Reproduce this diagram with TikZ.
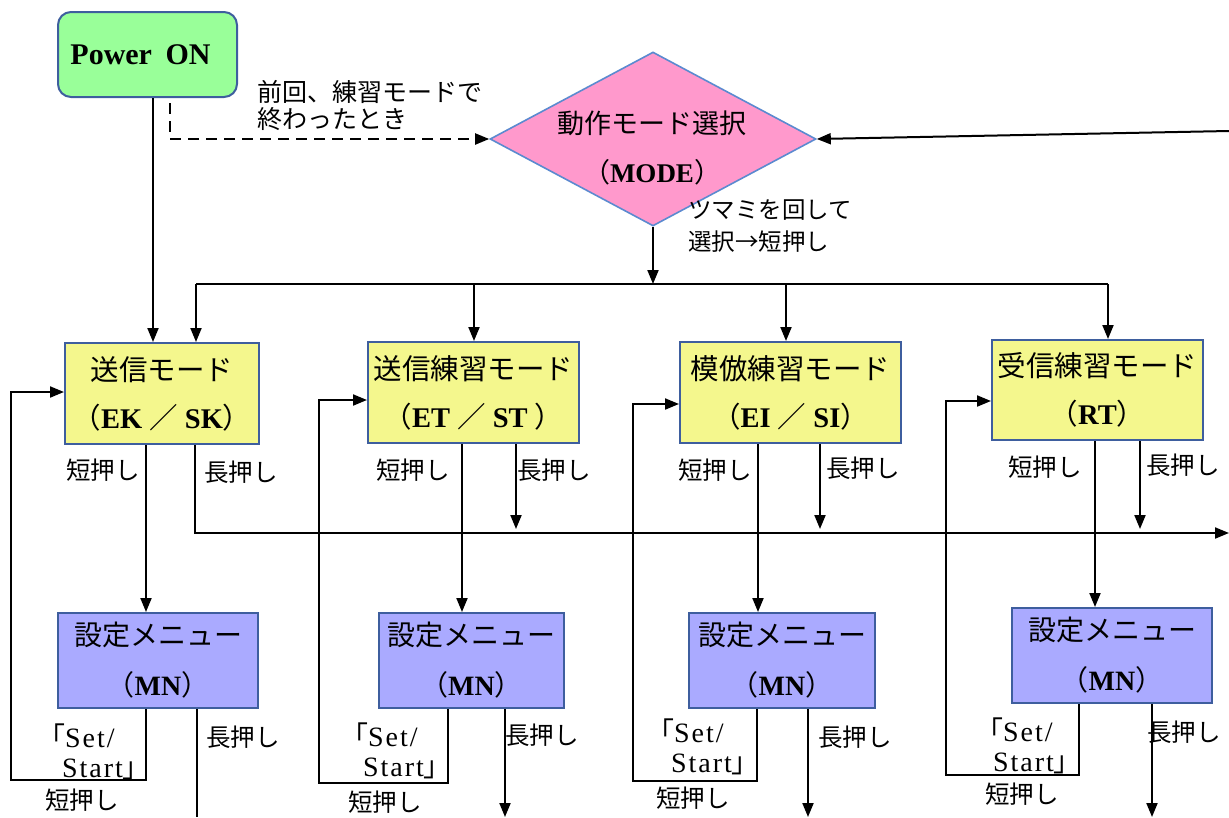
\documentclass[tikz,border=0pt]{standalone}
\usepackage{fontspec}
\setmainfont{Liberation Serif}
\newfontfamily\jp{Noto Sans CJK JP}
\newfontfamily\widerm[LetterSpace=7]{Liberation Serif}
\usetikzlibrary{shapes.geometric,arrows.meta}
\definecolor{greenfill}{HTML}{99FF99}
\definecolor{pinkfill}{HTML}{FF99CC}
\definecolor{yellowfill}{HTML}{F4F78D}
\definecolor{lavfill}{HTML}{AAAAFF}
\definecolor{bordblue}{HTML}{3E5E9E}
\definecolor{diablue}{HTML}{5B8AD0}
\tikzset{
 conn/.style={line width=2pt, draw=black},
 arr/.style={conn, -{Triangle[length=14pt,width=11pt]}},
 startbox/.style={draw=bordblue, line width=2pt, fill=greenfill, rounded corners=13pt, minimum width=179, minimum height=85, inner sep=0pt, font=\fontsize{30}{34}\selectfont\bfseries},
 decision/.style={diamond, draw=diablue, line width=1.6pt, fill=pinkfill, minimum width=326, minimum height=174, inner sep=0pt},
 modebox/.style={draw=bordblue, line width=2pt, fill=yellowfill, minimum height=101, inner sep=0pt, align=center, font=\fontsize{28.5}{48}\selectfont},
 menubox/.style={draw=bordblue, line width=2pt, fill=lavfill, minimum height=95, inner sep=0pt, align=center, font=\fontsize{28}{50}\selectfont},
 lab/.style={inner sep=0pt, font=\jp\fontsize{24.5}{28}\selectfont},
 notelab/.style={inner sep=0pt, anchor=west, align=left},
 setlab/.style={inner sep=0pt, align=left, anchor=west, font=\widerm\fontsize{28}{30}\selectfont},
}
\begin{document}
\begin{tikzpicture}[x=1pt,y=-1pt]
\useasboundingbox (0,0) rectangle (1229,817);
% nodes
\node[startbox] (pwr) at (147.5,54.5) {\hspace*{-14pt}Power\hspace{0.45em}ON};
\node[decision] (mode) at (653,139) {};
\node[inner sep=0pt, align=center, font=\fontsize{27}{49}\selectfont] (modetxt) at (652,148) {{\jp 動作モード選択}\\{\jp （}\textbf{MODE}{\jp ）}};

\node[modebox, minimum width=194] (m1) at (162,393.5) {{\jp 送信モード}\\{\jp （}\textbf{EK} {\jp ／} \textbf{SK}{\jp ）}};
\node[modebox, minimum width=211] (m2) at (473.5,392.5) {{\jp 送信練習モード}\\{\jp （}\textbf{ET} {\jp ／} \textbf{ST} {\jp ）}};
\node[modebox, minimum width=221] (m3) at (790.5,392.5) {{\jp 模倣練習モード}\\{\jp （}\textbf{EI} {\jp ／} \textbf{SI}{\jp ）}};
\node[modebox, minimum width=211, minimum height=100] (m4) at (1097.5,390) {{\jp 受信練習モード}\\{\jp （}\textbf{RT}{\jp ）}};

\node[menubox, minimum width=200] (n1) at (158,660.5) {{\jp 設定メニュー}\\{\jp （}\textbf{MN}{\jp ）}};
\node[menubox, minimum width=185] (n2) at (471.5,660.5) {{\jp 設定メニュー}\\{\jp （}\textbf{MN}{\jp ）}};
\node[menubox, minimum width=186] (n3) at (782,660.5) {{\jp 設定メニュー}\\{\jp （}\textbf{MN}{\jp ）}};
\node[menubox, minimum width=200] (n4) at (1112,655.5) {{\jp 設定メニュー}\\{\jp （}\textbf{MN}{\jp ）}};

% labels
\node[notelab, font=\jp\fontsize{25}{27}\selectfont] (lprev) at (257,105) {前回、練習モードで\\終わったとき};
\node[notelab, font=\jp\fontsize{23.5}{32}\selectfont] (lknob) at (688,226) {ツマミを回して\\選択→短押し};

\node[lab] (s1) at (103,470) {短押し};
\node[lab] (s2) at (413,470) {短押し};
\node[lab] (s3) at (715,470) {短押し};
\node[lab] (s4) at (1045,467) {短押し};
\node[lab] (g1) at (241,472) {長押し};
\node[lab] (g2) at (554,470) {長押し};
\node[lab] (g3) at (863,468) {長押し};
\node[lab] (g4) at (1183,465) {長押し};

\node[setlab] (st1) at (37,752) {{\jp 「}Set/\\\hspace*{25pt}Start{\jp 」}};
\node[setlab] (st2) at (340,751) {{\jp 「}Set/\\\hspace*{23pt}Start{\jp 」}};
\node[setlab] (st3) at (646,747) {{\jp 「}Set/\\\hspace*{25pt}Start{\jp 」}};
\node[setlab] (st4) at (975,746) {{\jp 「}Set/\\\hspace*{18pt}Start{\jp 」}};
\node[lab] (ss1) at (82,800) {短押し};
\node[lab] (ss2) at (385,802) {短押し};
\node[lab] (ss3) at (693,798) {短押し};
\node[lab] (ss4) at (1022,794) {短押し};
\node[lab] (gg1) at (243,737) {長押し};
\node[lab] (gg2) at (542,735) {長押し};
\node[lab] (gg3) at (855,737) {長押し};
\node[lab, anchor=west] (gg4) at (1147,732) {長押し};

% coordinates
\coordinate (fromright) at (1229,131);
\coordinate (busL) at (196,284);
\coordinate (bus2) at (474,284);
\coordinate (bus3) at (786,284);
\coordinate (busR) at (1108,284);
\coordinate (lpR) at (1229,533);
\coordinate (lp2) at (516,533);
\coordinate (lp3) at (820,533);
\coordinate (lp4) at (1140,533);

% connectors
\draw[arr] (pwr.south -| 153,0) -- (m1.north -| 153,0);
\draw[arr, dash pattern=on 11pt off 7pt] (pwr.south -| 170,0) ++(0,5) |- (mode.west);
\draw[arr] (fromright) -- (mode.east);
\draw[arr] (mode.south) -- (mode.south |- busL);
\draw[conn] (busL) -- (busR);
\draw[arr] (busL) -- (busL |- m1.north);
\draw[arr] (bus2) -- (bus2 |- m2.north);
\draw[arr] (bus3) -- (bus3 |- m3.north);
\draw[arr] (busR) -- (busR |- m4.north);

% short press: mode -> menu
\draw[arr] (m1.south -| 146,0) -- (n1.north -| 146,0);
\draw[arr] (m2.south -| 462,0) -- (n2.north -| 462,0);
\draw[arr] (m3.south -| 758,0) -- (n3.north -| 758,0);
\draw[arr] (m4.south -| 1095,0) -- (n4.north -| 1095,0);

% long press: mode -> bus
\draw[arr] (m1.south -| 195,0) |- (lpR);
\draw[arr, shorten >=4pt] (m2.south -| lp2) -- (lp2);
\draw[arr, shorten >=4pt] (m3.south -| lp3) -- (lp3);
\draw[arr, shorten >=4pt] (m4.south -| lp4) -- (lp4);

% Set/Start loops: menu -> mode
\draw[arr] (n1.south -| 146,0) |- (11,780) |- (m1.west |- 0,392);
\draw[arr] (n2.south -| 448,0) |- (319,783) |- (m2.west |- 0,400);
\draw[arr] (n3.south -| 757,0) |- (633,781) |- (m3.west |- 0,404);
\draw[arr] (n4.south -| 1079,0) |- (946,775) |- (m4.west |- 0,401);

% long press from menu
\draw[conn] (n1.south -| 197,0) -- (197,817);
\draw[arr] (n2.south -| 505,0) -- (505,817);
\draw[arr] (n3.south -| 808,0) -- (808,817);
\draw[arr] (n4.south -| 1152,0) -- (1152,817);
\end{tikzpicture}
\end{document}
